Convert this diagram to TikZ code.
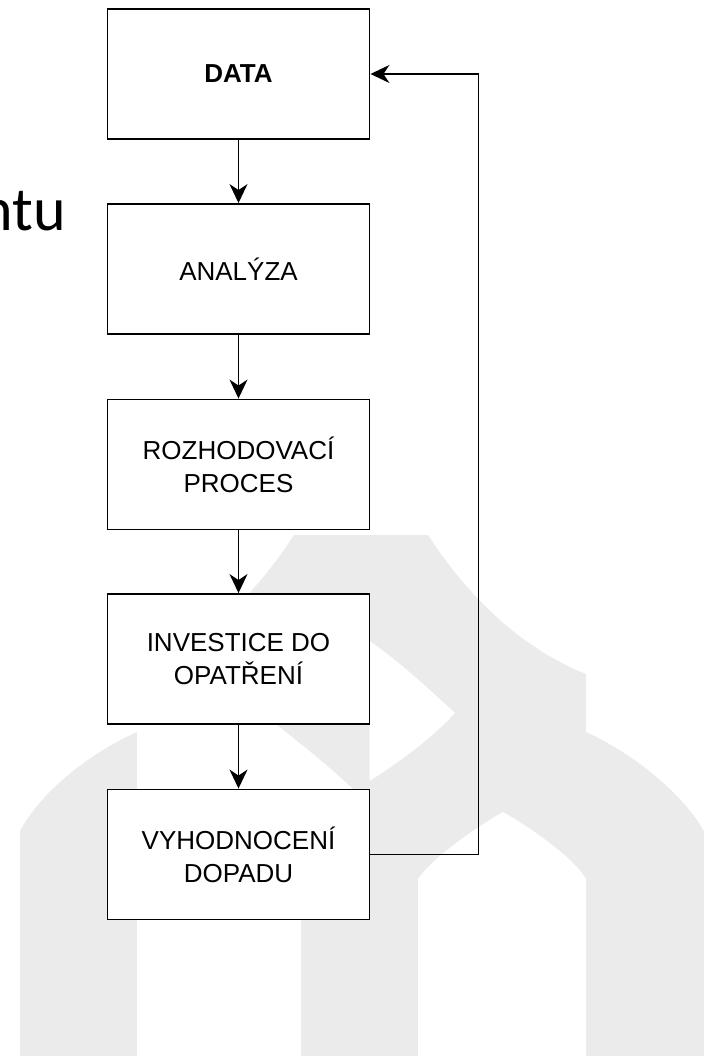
\documentclass[tikz,border=0pt]{standalone}
\usepackage{fontspec}
\setmainfont{Liberation Sans}
\newfontfamily\calibfont{Carlito}
\usetikzlibrary{arrows.meta}
\definecolor{logogrey}{RGB}{234,235,234}
\begin{document}
\begin{tikzpicture}[x=1bp,y=-1bp,
  box/.style={draw=black, line width=1.9bp, fill=white, minimum width=262bp, minimum height=130bp, inner sep=0pt, align=center, font=\fontsize{26bp}{33bp}\selectfont},
  arr/.style={draw=black, line width=1.7bp, -{Stealth[length=19bp,width=18bp,inset=6bp]}},
  logo/.style={fill=logogrey},
  hole/.style={fill=white}]
\useasboundingbox (0,0) rectangle (704,1056);
% background logo
\fill[logo] (20,1056) -- (20,831) .. controls (42,790) and (92,752) .. (137,732)
  -- (137,674) .. controls (197,650) and (252,600) .. (294,535) -- (428,535)
  .. controls (470,600) and (525,650) .. (586,674) -- (586,732)
  .. controls (630,752) and (680,790) .. (704,831) -- (704,1056) -- cycle;
\fill[hole] (418,1056) -- (418,879) .. controls (432,858) and (475,828) .. (503,812)
  .. controls (531,828) and (574,858) .. (586,879) -- (586,1056) -- cycle;
\fill[hole] (369.5,641) .. controls (400,662) and (430,690) .. (455,713)
  .. controls (430,740) and (395,765) .. (369.5,781) -- cycle;
\fill[hole] (137,1056) -- (137,700) -- (245,700) .. controls (270,720) and (330,765) .. (362,798)
  .. controls (340,830) and (315,860) .. (301,880) -- (301,1056) -- cycle;
% left text fragment
\node[anchor=base east, inner sep=0pt, font=\calibfont\fontsize{62bp}{74bp}\selectfont] (ntu) at (66,230) {ntu};
% flowchart
\node[box, font=\bfseries\fontsize{26bp}{33bp}\selectfont] (data) at (238.5,74) {DATA};
\node[box] (ana) at (238.5,269) {ANALÝZA};
\node[box] (roz) at (238.5,464.5) {ROZHODOVACÍ\\PROCES};
\node[box] (inv) at (238.5,659) {INVESTICE DO\\OPATŘENÍ};
\node[box] (vyh) at (238.5,854.5) {VYHODNOCENÍ\\DOPADU};
\draw[arr] (data) -- (ana);
\draw[arr] (ana) -- (roz);
\draw[arr] (roz) -- (inv);
\draw[arr] (inv) -- (vyh);
\draw[arr] (vyh.east) -- ++(108,0) |- (data.east);
\end{tikzpicture}
\end{document}
